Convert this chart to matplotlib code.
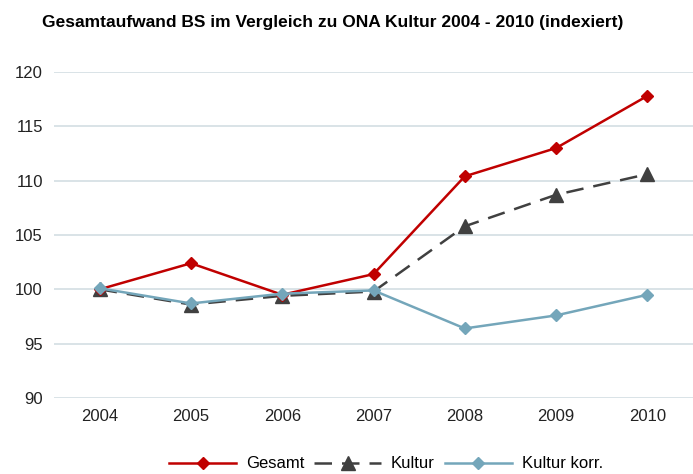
import matplotlib.pyplot as plt

years = ["2004", "2005", "2006", "2007", "2008", "2009", "2010"]
gesamt = [100.0, 102.4, 99.5, 101.4, 110.4, 113.0, 117.8]
kultur = [100.0, 98.6, 99.4, 99.8, 105.8, 108.7, 110.6]
kultur_korr = [100.1, 98.7, 99.6, 99.9, 96.4, 97.6, 99.5]

plt.rcParams['font.family'] = ['Liberation Sans', 'DejaVu Sans']

fig = plt.figure(figsize=(6.93, 4.74), dpi=100)
ax = fig.add_axes([54 / 693, 76 / 474, 1 - 54 / 693, 326 / 474])

x = list(range(len(years)))
ax.plot(x, gesamt, color='#C00000', linewidth=1.8, marker='D', markersize=6.5, label='Gesamt', zorder=3)
ax.plot(x, kultur, color='#404040', linewidth=1.8, linestyle=(0, (7, 4)), marker='^', markersize=9.5,
        label='Kultur', zorder=2)
ax.plot(x, kultur_korr, color='#74A6BA', linewidth=1.8, marker='D', markersize=6.5, label='Kultur korr.', zorder=4)

ax.set_xlim(-0.5, 6.5)
ax.set_ylim(90, 120)
ax.set_yticks(range(90, 121, 5))
ax.set_xticks(x)
ax.set_xticklabels(years)
ax.grid(axis='y', color='#D3DEE3', linewidth=1.2)
ax.set_axisbelow(True)
for s in ax.spines.values():
    s.set_visible(False)
ax.tick_params(length=0, labelsize=12, colors='#222222', pad=8)

fig.text(42 / 693, 1 - 22 / 474, "Gesamtaufwand BS im Vergleich zu ONA Kultur 2004 - 2010 (indexiert)",
         fontsize=12.5, fontweight='bold', va='center', ha='left')

fig.legend(loc='center', bbox_to_anchor=(386 / 693, 1 - 464 / 474), ncol=3, frameon=False,
           fontsize=12, handlelength=4, columnspacing=0.6, handletextpad=0.6)

fig.savefig('out.png', dpi=100)
